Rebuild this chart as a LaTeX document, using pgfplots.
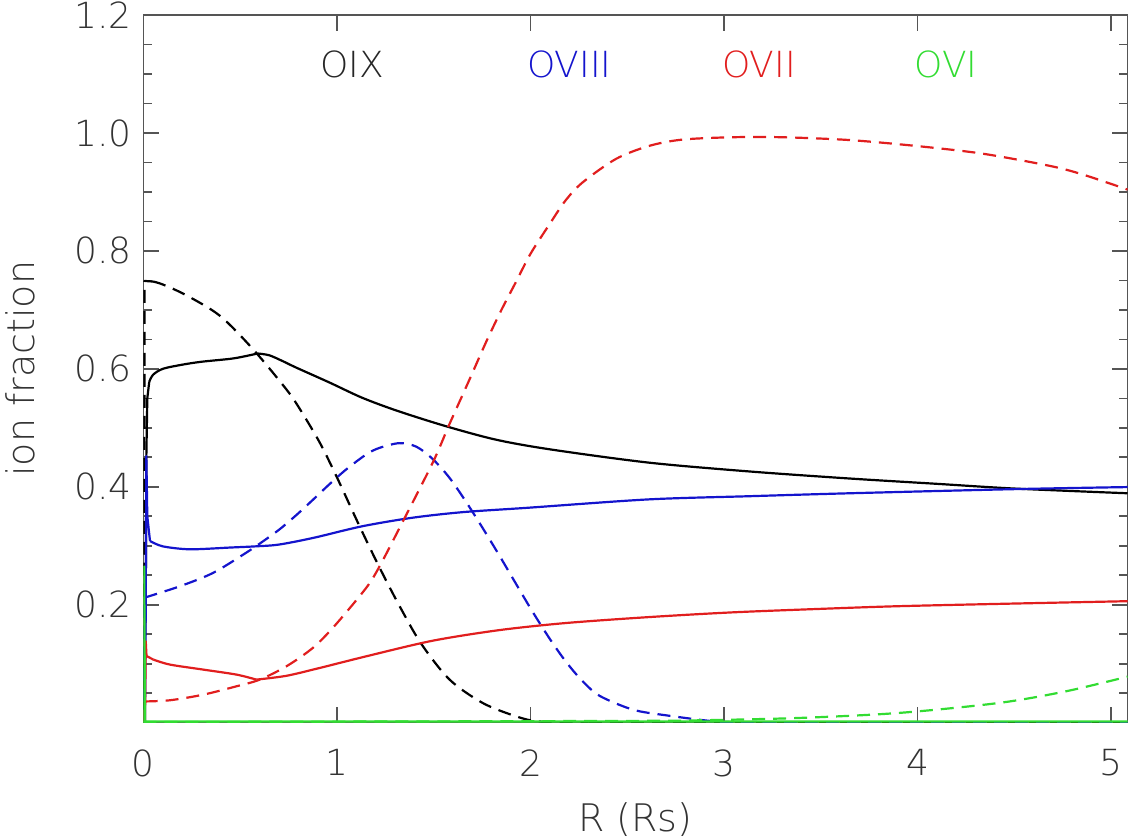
\documentclass[border=0pt]{standalone}
\usepackage{fontspec}
\setmainfont{DejaVu Sans ExtraLight}
\usepackage{pgfplots}
\pgfplotsset{compat=1.18}
\definecolor{axisgray}{HTML}{555555}
\definecolor{labelgray}{HTML}{333333}
\definecolor{cblue}{RGB}{20,20,205}
\definecolor{cred}{RGB}{225,30,30}
\definecolor{cgreen}{RGB}{50,220,50}
\begin{document}
\begin{tikzpicture}
\begin{axis}[
  name=ax,
  scale only axis,
  width=492.25pt, height=354pt,
  xmin=0, xmax=5.085, ymin=0, ymax=1.2,
  axis line style={color=axisgray, line width=0.8pt},
  tick style={color=axisgray, line width=0.8pt},
  tick align=inside,
  tick pos=both,
  xtick={0,1,2,3,4,5},
  xticklabels={0,1,2,3,4,5},
  ytick={0,0.2,0.4,0.6,0.8,1.0,1.2},
  yticklabels={,0.2,0.4,0.6,0.8,1.0,1.2},
  minor y tick num=3,
  major tick length=8pt, minor tick length=4.5pt,
  ticklabel style={font=\fontsize{18}{21}\selectfont, text=labelgray},
  xticklabel style={yshift=-10pt},
  yticklabel style={xshift=-2.3pt},
  xlabel={R (Rs)}, ylabel={ion fraction},
  label style={font=\fontsize{19}{22}\selectfont, text=labelgray},
  xlabel style={at={(axis description cs:0.5,-0.137)}, anchor=center},
  ylabel style={at={(axis description cs:-0.1254,0.5)}, anchor=center},
  every axis plot/.append style={line width=1.1pt, line join=round},
  dashstyle/.style={dash pattern=on 6.5pt off 4pt},
  sm/.style={smooth, tension=0.5},
]
% OIX solid
\addplot[black] coordinates {(0,0) (0.012,0.2) (0.015,0.45) (0.02,0.55) (0.03,0.578)};
\addplot[black, sm] coordinates {(0.03,0.578) (0.05,0.59) (0.1,0.600) (0.2,0.607) (0.3,0.612) (0.45,0.617) (0.52,0.621) (0.59,0.626)};
\addplot[black, sm] coordinates {(0.59,0.626) (0.65,0.623) (0.72,0.613) (0.79,0.602) (0.96,0.577) (1.13,0.551) (1.31,0.529) (1.56,0.503) (1.82,0.480) (2.1,0.4635) (2.61,0.441) (3.13,0.426) (3.65,0.414) (4.1,0.405) (4.5,0.397) (5.085,0.389)};
% OIX dashed
\addplot[black, dashstyle] coordinates {(0.003,0) (0.006,0.749) (0.05,0.748)};
\addplot[black, dashstyle, sm] coordinates {(0.05,0.748) (0.1,0.743) (0.22,0.725) (0.395,0.69) (0.567,0.633) (0.739,0.565) (0.808,0.532) (0.911,0.475) (0.997,0.418) (1.117,0.333) (1.22,0.263) (1.323,0.198) (1.435,0.134) (1.582,0.073) (1.753,0.0334) (1.926,0.0107) (2.046,0.002) (2.3,0.0)};
\addplot[black, dashstyle] coordinates {(2.3,0.0) (5.085,0.0)};
% OVIII solid
\addplot[cblue] coordinates {(0.008,0) (0.012,0.2) (0.015,0.452) (0.02,0.35) (0.034,0.308)};
\addplot[cblue, sm] coordinates {(0.034,0.308) (0.1,0.299) (0.24,0.294) (0.45,0.297) (0.58,0.299) (0.7,0.302) (0.88,0.3135) (1.13,0.333) (1.39,0.3475) (1.65,0.357) (1.99,0.3645) (2.61,0.3786) (3.13,0.384) (3.65,0.389) (4.5,0.396) (5.085,0.3995)};
% OVIII dashed
\addplot[cblue, dashstyle] coordinates {(0.003,0) (0.006,0.212)};
\addplot[cblue, dashstyle, sm] coordinates {(0.006,0.212) (0.19,0.2315) (0.36,0.254) (0.53,0.288) (0.62,0.308) (0.704,0.328) (0.79,0.352) (0.876,0.378) (0.96,0.404) (1.048,0.4295) (1.152,0.455) (1.22,0.466) (1.323,0.474) (1.41,0.468) (1.495,0.447) (1.582,0.415) (1.668,0.374) (1.753,0.330) (1.84,0.283) (1.926,0.235) (2.011,0.188) (2.1,0.142) (2.184,0.103) (2.27,0.070) (2.36,0.045) (2.53,0.022) (2.7,0.0125) (2.96,0.002) (3.2,0.0)};
\addplot[cblue, dashstyle] coordinates {(3.2,0.0) (5.085,0.0)};
% OVII solid
\addplot[cred] coordinates {(0.008,0) (0.012,0.138) (0.016,0.113) (0.051,0.107)};
\addplot[cred, sm] coordinates {(0.051,0.107) (0.137,0.0985) (0.309,0.090) (0.481,0.0815) (0.584,0.073)};
\addplot[cred, sm] coordinates {(0.584,0.073) (0.739,0.0795) (0.911,0.0928) (1.152,0.1126) (1.495,0.139) (1.84,0.157) (2.184,0.169) (2.61,0.179) (3.04,0.187) (3.5,0.193) (3.9,0.1975) (4.5,0.202) (5.085,0.206)};
% OVII dashed
\addplot[cred, dashstyle] coordinates {(0.003,0) (0.006,0.036)};
\addplot[cred, dashstyle, sm] coordinates {(0.006,0.036) (0.137,0.038) (0.309,0.0475) (0.481,0.0617) (0.601,0.073) (0.739,0.0956) (0.876,0.127) (0.99,0.165) (1.152,0.229) (1.22,0.265) (1.323,0.330) (1.495,0.441) (1.581,0.506) (1.685,0.582) (1.77,0.645) (1.85,0.700) (1.926,0.748) (2.0,0.795) (2.098,0.845) (2.18,0.885) (2.269,0.916) (2.442,0.956) (2.613,0.978) (2.785,0.9887) (3.043,0.9927) (3.3,0.9927) (3.645,0.988) (3.99,0.978) (4.333,0.965) (4.678,0.9445) (4.849,0.930) (5.085,0.904)};
% OVI solid
\addplot[cgreen] coordinates {(0.002,0) (0.004,0.265) (0.008,0.002) (5.085,0.002)};
% OVI dashed
\addplot[cgreen, dashstyle, sm] coordinates {(0,0.001) (2.5,0.003) (2.87,0.004) (3.387,0.008) (3.903,0.0165) (4.419,0.0334) (4.764,0.053) (5.085,0.078)};
\node[font=\fontsize{18}{21}\selectfont, text=black!85] at (axis cs:1.08,1.117) {OIX};
\node[font=\fontsize{18}{21}\selectfont, text=cblue] at (axis cs:2.20,1.117) {OVIII};
\node[font=\fontsize{18}{21}\selectfont, text=cred] at (axis cs:3.18,1.117) {OVII};
\node[font=\fontsize{18}{21}\selectfont, text=cgreen] at (axis cs:4.146,1.117) {OVI};
\end{axis}
\pgfresetboundingbox
\path (ax.south west) ++(-71.75pt,-58pt) (ax.north east) ++(0.75pt,7.5pt);
\end{tikzpicture}
\end{document}
